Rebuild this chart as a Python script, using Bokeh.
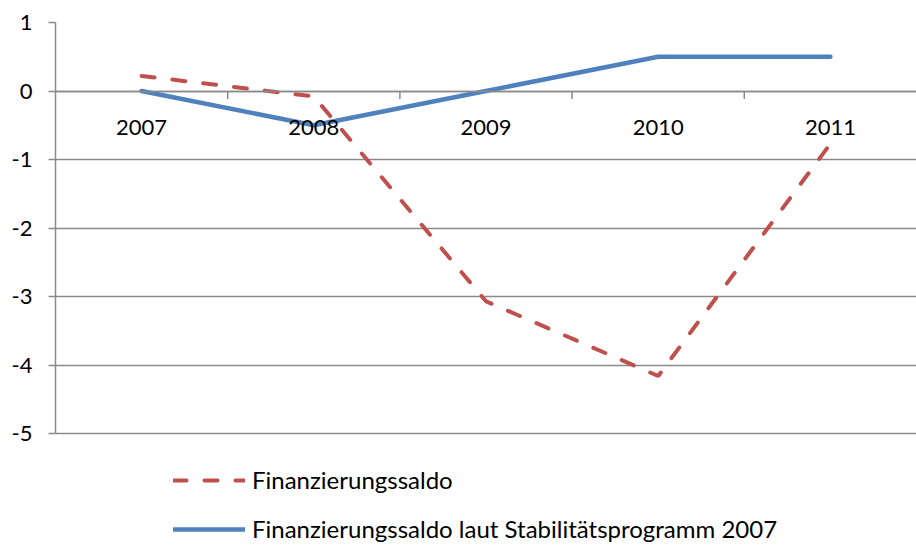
import math
from bokeh.plotting import figure
from bokeh.models import (FactorRange, Range1d, LinearAxis, CategoricalAxis, FixedTicker, Grid,
                          Legend, LegendItem)
from bokeh.embed import file_html
from bokeh.resources import INLINE

years = ["2007", "2008", "2009", "2010", "2011"]
saldo = [0.22, -0.08, -3.07, -4.16, -0.77]
saldo_stab = [0.0, -0.5, 0.0, 0.5, 0.5]
y_ticks = [-5, -4, -3, -2, -1, 0, 1]
label_saldo = "Finanzierungssaldo"
label_stab = "Finanzierungssaldo laut Stabilitätsprogramm 2007"

FONT = "Lato"
GRAY = "#8a8a8a"

W, H = 916, 545
TOP, LEFT = 22, 55
PX_PER_UNIT = 68.5
y_lo = y_ticks[-1] - (H - TOP) / PX_PER_UNIT   # extra room below for the legend

p = figure(width=W, height=H,
           x_range=FactorRange(*years, range_padding=0),
           y_range=Range1d(y_lo, y_ticks[-1]),
           output_backend="svg", toolbar_location=None,
           x_axis_location=None, y_axis_location=None,
           min_border_left=LEFT, min_border_right=0,
           min_border_top=TOP, min_border_bottom=0)
p.outline_line_color = None
p.background_fill_color = "white"
p.border_fill_color = "white"
for g in p.grid:
    g.visible = False

# y axis
yaxis = LinearAxis(ticker=FixedTicker(ticks=y_ticks), bounds=(y_ticks[0], y_ticks[-1]),
                   axis_line_color=GRAY, axis_line_width=1.5,
                   major_tick_line_color=GRAY, major_tick_line_width=1.5,
                   major_tick_out=7, major_tick_in=0,
                   minor_tick_line_color=None,
                   major_label_overrides={t: str(t) for t in y_ticks},
                   major_label_text_font=FONT, major_label_text_font_size="22px",
                   major_label_text_color="black", major_label_standoff=16)
p.add_layout(yaxis, "left")
p.add_layout(Grid(dimension=1, ticker=yaxis.ticker, grid_line_color=GRAY, grid_line_width=1.5))

# category labels at y = 0
xaxis = CategoricalAxis(fixed_location=0, axis_line_color=GRAY, axis_line_width=1.5,
                        major_tick_line_color=None, major_tick_out=0, major_tick_in=0,
                        major_label_text_font=FONT, major_label_text_font_size="22px",
                        major_label_text_color="black", major_label_standoff=29)
p.add_layout(xaxis, "below")

# small tick marks on the category boundaries (below the zero line)
p.ray(x=[(yr, 0.5) for yr in years[:-1]], y=[0] * (len(years) - 1),
      length=8, length_units="screen", angle=-math.pi / 2,
      line_color=GRAY, line_width=1.5)

r1 = p.line(x=years, y=saldo, line_color="#C0504D", line_width=4,
            line_dash="13 18", line_cap="round")
r2 = p.line(x=years, y=saldo_stab, line_color="#4F81BD", line_width=4.5,
            line_cap="round", line_join="round")

legend = Legend(items=[LegendItem(label=label_saldo, renderers=[r1]),
                       LegendItem(label=label_stab, renderers=[r2])],
                location=(118, 2), orientation="vertical",
                border_line_color=None, background_fill_alpha=0,
                padding=0, margin=0, spacing=20,
                glyph_width=72, glyph_height=24, label_height=24,
                label_standoff=7,
                label_text_font=FONT, label_text_font_size="24px",
                label_text_color="black")
p.add_layout(legend, "center")

open("out.html", "w").write(file_html(p, INLINE))
